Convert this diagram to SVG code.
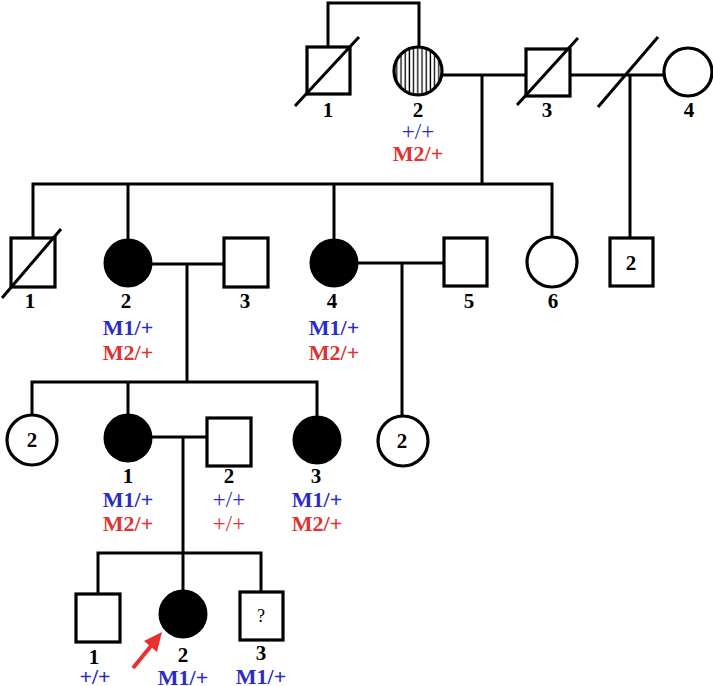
<svg xmlns="http://www.w3.org/2000/svg" width="713" height="686" viewBox="0 0 713 686">
<style>
.ln{fill:none;stroke:#000;stroke-width:3}
.sq{fill:#fff;stroke:#000;stroke-width:3.2}
.af{fill:#000;stroke:#000;stroke-width:3}
.num{font-family:"Liberation Serif",serif;font-weight:bold;font-size:21px;fill:#000;text-anchor:middle}
.gb{font-family:"Liberation Serif",serif;font-weight:bold;font-size:22px;fill:#2b2bc8;text-anchor:middle}
.gr{font-family:"Liberation Serif",serif;font-weight:bold;font-size:22px;fill:#e03232;text-anchor:middle}
.gbn{font-family:"Liberation Serif",serif;font-size:23px;fill:#2b2bc8;text-anchor:middle}
.grn{font-family:"Liberation Serif",serif;font-size:23px;fill:#e03232;text-anchor:middle}
.q{font-family:"Liberation Serif",serif;font-size:18px;fill:#000;text-anchor:middle}
</style>
<defs>
<pattern id="hatch" width="4.2" height="10" patternUnits="userSpaceOnUse">
<line x1="2" y1="0" x2="2" y2="10" stroke="#000" stroke-width="1.3"/>
</pattern>
</defs>
<g id="connectors">
<path class="ln" d="M328,47 V3 H419 V47"/>
<path class="ln" d="M443,75 H526"/>
<path class="ln" d="M482,75 V184"/>
<path class="ln" d="M570,75 H665"/>
<path class="ln" d="M598,107 L658,37"/>
<path class="ln" d="M630,75 V238"/>
<path class="ln" d="M33,238 V184 H552 V238"/>
<path class="ln" d="M128,184 V240"/>
<path class="ln" d="M334,184 V240"/>
<path class="ln" d="M152,264 H224"/>
<path class="ln" d="M187,264 V382"/>
<path class="ln" d="M358,263 H444"/>
<path class="ln" d="M402,263 V416"/>
<path class="ln" d="M32,415 V382 H317 V417"/>
<path class="ln" d="M128,382 V416"/>
<path class="ln" d="M151,437 H207"/>
<path class="ln" d="M183,437 V591"/>
<path class="ln" d="M98,594 V553 H261 V592"/>
</g>
<g id="I-1">
<rect class="sq" x="307" y="47" width="43" height="47"/>
<path class="ln" d="M295,106 L359,37"/>
<text class="num" x="328" y="117">1</text>
</g>
<g id="I-2">
<circle cx="418" cy="71" r="24" fill="url(#hatch)" stroke="#000" stroke-width="3.2"/>
<text class="num" x="418" y="117">2</text>
<text class="gbn" x="418" y="139">+/+</text>
<text class="gr" x="418" y="161">M2/+</text>
</g>
<g id="I-3">
<rect class="sq" x="526" y="49" width="44" height="47"/>
<path class="ln" d="M517,105 L578,38"/>
<text class="num" x="547" y="117">3</text>
</g>
<g id="I-4">
<circle class="sq" cx="688" cy="72" r="24"/>
<text class="num" x="689" y="117">4</text>
</g>
<g id="II-1">
<rect class="sq" x="11" y="238" width="44" height="49"/>
<path class="ln" d="M2,298 L61,229"/>
<text class="num" x="30" y="308">1</text>
</g>
<g id="II-2">
<circle class="af" cx="128" cy="263" r="23"/>
<text class="num" x="126" y="308">2</text>
<text class="gb" x="128" y="335">M1/+</text>
<text class="gr" x="128" y="360">M2/+</text>
</g>
<g id="II-3">
<rect class="sq" x="224" y="238" width="44" height="49"/>
<text class="num" x="245" y="308">3</text>
</g>
<g id="II-4">
<circle class="af" cx="334" cy="263" r="23"/>
<text class="num" x="332" y="308">4</text>
<text class="gb" x="334" y="335">M1/+</text>
<text class="gr" x="334" y="360">M2/+</text>
</g>
<g id="II-5">
<rect class="sq" x="444" y="238" width="43" height="48"/>
<text class="num" x="469" y="308">5</text>
</g>
<g id="II-6">
<circle class="sq" cx="552" cy="262" r="25"/>
<text class="num" x="553" y="308">6</text>
</g>
<g id="II-7">
<rect class="sq" x="610" y="238" width="43" height="48"/>
<text class="num" x="631" y="270">2</text>
</g>
<g id="III-a">
<circle class="sq" cx="32" cy="440" r="25"/>
<text class="num" x="32" y="447">2</text>
</g>
<g id="III-1">
<circle class="af" cx="128" cy="438" r="23"/>
<text class="num" x="128" y="483">1</text>
<text class="gb" x="128" y="507">M1/+</text>
<text class="gr" x="128" y="531">M2/+</text>
</g>
<g id="III-2">
<rect class="sq" x="207" y="418" width="44" height="48"/>
<text class="num" x="229" y="483">2</text>
<text class="gbn" x="229" y="507">+/+</text>
<text class="grn" x="229" y="531">+/+</text>
</g>
<g id="III-3">
<circle class="af" cx="317" cy="440" r="23"/>
<text class="num" x="316" y="483">3</text>
<text class="gb" x="317" y="507">M1/+</text>
<text class="gr" x="317" y="531">M2/+</text>
</g>
<g id="III-b">
<circle class="sq" cx="403" cy="441" r="25"/>
<text class="num" x="402" y="448">2</text>
</g>
<g id="IV-1">
<rect class="sq" x="76" y="594" width="44" height="48"/>
<text class="num" x="94" y="664">1</text>
<text class="gb" x="95" y="684">+/+</text>
</g>
<g id="IV-2">
<circle class="af" cx="183" cy="614" r="23"/>
<text class="num" x="183" y="662">2</text>
<text class="gb" x="183" y="685">M1/+</text>
</g>
<g id="IV-3">
<rect class="sq" x="240" y="592" width="43" height="48"/>
<text class="q" x="261" y="622">?</text>
<text class="num" x="261" y="660">3</text>
<text class="gb" x="261" y="684">M1/+</text>
</g>
<g id="arrow">
<line x1="133" y1="668" x2="151" y2="646" stroke="#e83030" stroke-width="4"/>
<polygon points="162,632 144,641 157,652" fill="#e83030"/>
</g>
</svg>
